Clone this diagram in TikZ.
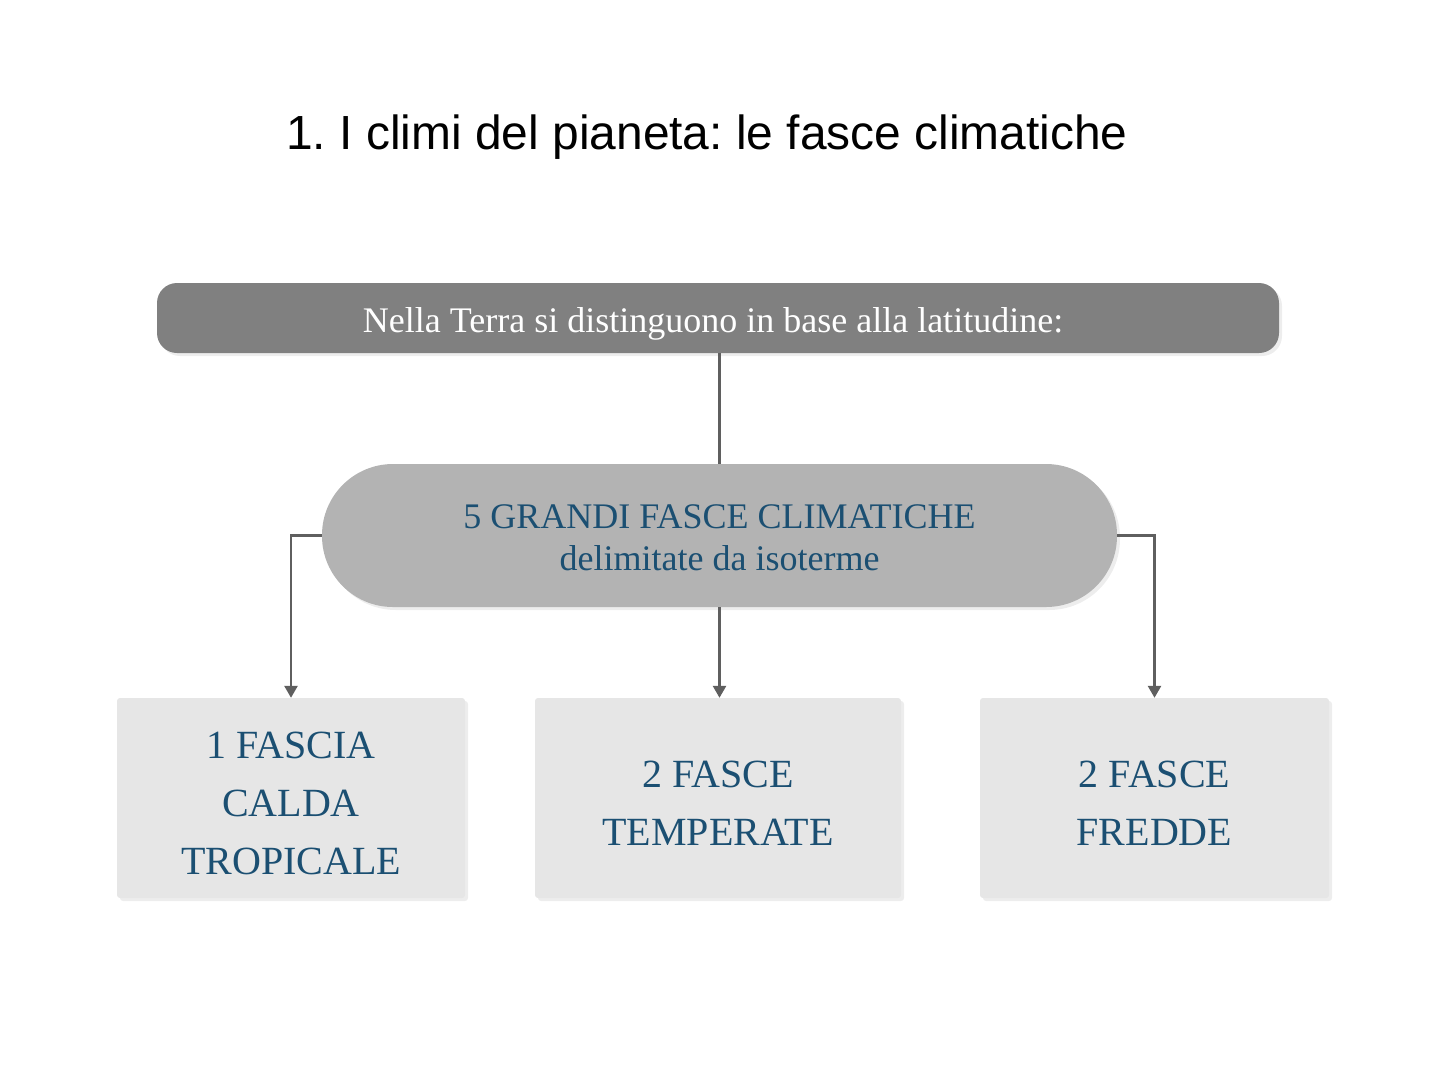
\documentclass[tikz,border=0pt]{standalone}
\usepackage{fontspec}
\setmainfont{Liberation Serif}
\newfontfamily\titlefont{Liberation Sans}
\usetikzlibrary{arrows.meta,shadows,positioning}
\frenchspacing
\definecolor{bartop}{HTML}{808080}
\definecolor{barmid}{HTML}{B3B3B3}
\definecolor{boxfill}{HTML}{E6E6E6}
\definecolor{txtblue}{HTML}{1B4F72}
\definecolor{linegray}{HTML}{5F5F5F}
\newcommand{\lowered}[2]{\raisebox{-#1}[\height][\depth]{#2}}
\tikzset{
  x=1pt,y=-1pt,
  softshadow/.style={drop shadow={shadow xshift=3pt,shadow yshift=-3pt,opacity=0.07,fill=black}},
  conn/.style={draw=linegray,line width=2.6pt},
  arr/.style={conn,-{Triangle[length=12pt,width=13pt]}},
  leafbox/.style={fill=boxfill,rounded corners=3pt,minimum width=348pt,minimum height=200pt,
    font=\fontsize{40}{58}\selectfont,text=txtblue,align=center,softshadow},
}
\begin{document}
\begin{tikzpicture}
\useasboundingbox (0,0) rectangle (1440,1080);
\node[font=\titlefont\fontsize{47.9}{56}\selectfont,text=black] (title) at (707,137) {1.\ I climi del pianeta: le fasce climatiche};
\node[fill=bartop,rounded corners=20pt,minimum width=1122pt,minimum height=70pt,
  text=white,font=\fontsize{36}{42}\selectfont,softshadow] (top) at (718,318) {\lowered{6pt}{Nella Terra si distinguono in base alla latitudine:}\hspace*{10pt}};
\node[fill=barmid,rounded corners=71pt,minimum width=795pt,minimum height=143pt,
  text=txtblue,font=\fontsize{36}{43}\selectfont,align=center,softshadow] (mid) at (719.5,535.5) {\lowered{5pt}{\begin{tabular}{@{}c@{}}5 GRANDI FASCE CLIMATICHE\\[-1pt]delimitate da isoterme\end{tabular}}};
\node[leafbox] (b1) at (291,798) {\lowered{7pt}{\begin{tabular}{@{}c@{}}1 FASCIA\\CALDA\\TROPICALE\end{tabular}}};
\node[leafbox,minimum width=366pt] (b2) at (718,798) {\lowered{7pt}{\begin{tabular}{@{}c@{}}2 FASCE\\TEMPERATE\end{tabular}}};
\node[leafbox,minimum width=349pt] (b3) at (1154.5,798) {\lowered{7pt}{\begin{tabular}{@{}c@{}}2 FASCE\\FREDDE\end{tabular}}};
\draw[conn] (top.south -| mid.north) -- (mid.north);
\draw[arr] (mid.west) -- (b1.north |- mid.west) -- (b1.north);
\draw[arr] (mid.south) -- (mid.south |- b2.north);
\draw[arr] (mid.east) -- (b3.north |- mid.east) -- (b3.north);
\end{tikzpicture}
\end{document}
